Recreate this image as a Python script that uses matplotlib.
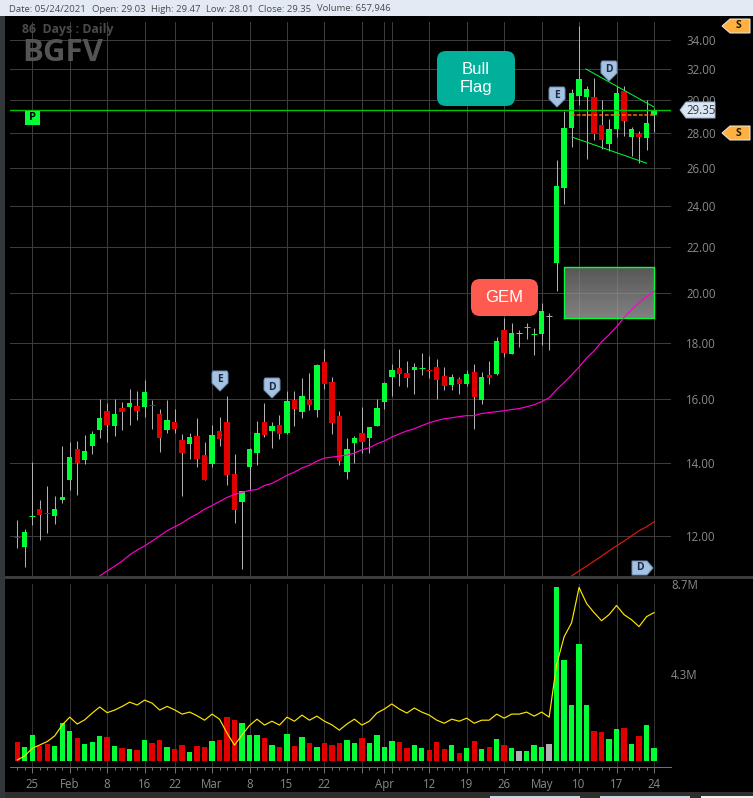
import numpy as np
import matplotlib
matplotlib.use('Agg')
import matplotlib.pyplot as plt
from matplotlib.patches import Rectangle, FancyBboxPatch, Polygon

opens = [11.98,11.73,12.49,12.69,12.62,12.51,12.94,13.49,14.41,14.08,
	14.50,14.99,15.60,15.11,15.70,15.73,15.77,15.73,15.81,15.50,
	14.99,15.25,14.68,14.56,14.81,14.23,13.97,14.96,15.25,13.68,
	12.88,13.86,14.29,15.25,14.96,15.14,14.90,15.97,15.57,15.97,
	15.63,17.29,16.58,15.43,13.71,14.59,14.90,14.75,15.11,15.90,
	16.75,17.08,16.90,17.01,17.06,17.04,17.11,16.79,16.48,16.68,
	16.51,16.93,15.97,16.82,16.86,18.49,17.59,18.37,18.58,18.33,
	18.34,19.03,21.28,24.92,28.30,30.24,30.18,30.18,28.47,27.34,
	28.19,30.55,27.74,27.92,27.68,29.03]
closes = [11.96,12.10,12.51,12.53,12.60,12.69,13.03,14.17,14.00,14.35,
	14.87,15.36,15.14,15.50,15.57,15.87,15.60,16.24,15.79,14.75,
	15.32,15.03,14.29,14.78,14.11,13.49,14.84,14.72,13.65,12.66,
	13.19,14.41,14.90,14.84,15.11,14.87,15.93,15.67,16.10,15.80,
	17.18,16.51,15.21,14.05,14.41,14.75,14.62,15.08,15.70,16.54,
	17.01,16.86,16.72,17.11,17.08,17.02,16.65,16.44,16.75,16.51,
	16.86,16.07,16.75,16.72,18.09,17.63,18.39,18.37,18.60,18.35,
	19.26,19.03,25.02,28.30,30.43,31.33,30.68,27.92,27.57,28.19,
	30.43,28.70,28.19,27.74,28.59,29.35]
highs = [12.41,12.18,14.02,12.94,13.33,13.05,14.50,14.62,14.65,14.84,
	14.96,16.00,15.87,16.00,15.90,16.34,16.27,16.65,15.97,15.67,
	15.97,15.67,14.87,14.90,15.36,14.62,15.14,15.39,16.10,14.26,
	13.19,14.43,15.28,15.87,15.25,15.46,16.27,16.27,16.72,16.90,
	17.22,17.78,16.75,15.60,14.75,14.81,15.73,15.08,16.00,16.58,
	17.22,17.78,17.32,17.25,17.63,17.52,17.41,17.11,16.86,16.75,
	16.99,17.22,16.93,17.32,18.23,18.96,18.76,18.49,18.76,18.59,
	19.58,19.15,26.43,29.30,30.68,35.04,30.87,31.40,29.99,28.82,
	30.87,30.87,28.36,28.07,29.99,29.47]
lows = [11.70,11.24,12.28,11.90,12.08,12.30,12.86,13.22,13.08,13.97,
	14.26,14.75,14.62,14.81,14.99,15.14,15.32,15.39,15.03,14.32,
	14.90,14.90,13.05,14.11,13.86,13.49,13.86,14.50,13.36,12.33,
	11.19,13.22,13.92,14.78,14.43,14.72,14.87,15.11,15.36,15.63,
	15.39,16.34,14.87,13.92,13.51,14.00,14.29,14.29,15.11,15.67,
	16.10,16.44,16.41,16.17,16.82,16.72,16.00,16.31,16.31,16.17,
	16.44,15.03,15.83,16.51,16.82,17.48,17.59,17.85,18.15,17.56,
	17.92,17.74,20.07,24.11,27.17,29.68,26.49,27.57,27.06,26.94,
	27.74,27.80,26.66,26.26,27.00,28.01]
# volume in millions
volumes = [.94,.69,1.29,.74,.84,.74,1.88,1.49,1.14,.84,.94,1.24,1.19,.74,.64,.59,.54,1.04,.89,1.04,
	.69,.59,.79,.45,.74,.69,.99,1.04,2.18,2.03,1.88,1.29,1.29,1.14,.79,.69,1.34,.74,
	1.19,.89,.69,.89,.79,.89,1.04,.89,1.14,.89,1.29,.69,.99,.94,.64,.79,.64,.54,.94,.59,
	.79,.40,.64,.99,.59,.69,1.09,.79,.64,.50,.50,.79,.69,.84,8.56,5.00,2.77,5.74,2.77,1.49,
	1.44,1.09,1.58,1.63,.84,1.24,1.78,.66]
vol_avg = [.05,.25,.63,.79,.96,1.24,1.78,2.16,1.82,2.03,2.36,2.66,2.38,2.51,2.69,2.90,2.76,3.00,2.85,2.51,
	2.69,2.52,2.31,2.41,2.23,2.01,2.31,2.06,1.37,.78,1.29,1.75,2.06,1.77,1.96,1.77,2.16,1.96,
	2.26,2.01,2.21,1.96,1.78,1.52,1.82,2.06,1.77,1.96,2.36,2.56,2.81,2.56,2.36,2.61,2.41,2.26,2.01,1.86,
	2.06,1.96,2.11,1.86,2.01,2.01,2.31,2.11,2.31,2.31,2.41,2.21,2.41,2.16,4.75,6.12,6.81,8.55,7.76,7.31,
	6.91,7.21,7.66,7.21,6.96,6.62,7.11,7.31]
ma_start = 11
ma_mid = [11.03,11.15,11.26,11.38,11.53,11.65,11.75,11.87,12.00,12.13,12.23,12.33,12.46,12.56,12.69,
	12.79,12.90,13.01,13.09,13.15,13.20,13.23,13.34,13.40,13.51,13.63,13.72,13.84,13.92,14.04,14.13,
	14.16,14.19,14.22,14.28,14.38,14.44,14.56,14.65,14.77,14.87,14.96,15.03,15.13,15.22,15.29,15.35,
	15.38,15.42,15.45,15.45,15.52,15.55,15.58,15.61,15.65,15.68,15.74,15.81,15.91,16.04,16.32,16.56,
	16.83,17.11,17.44,17.70,18.04,18.31,18.62,18.98,19.30,19.59,19.84,20.05]
ma_long_start = 74
ma_long = [11.03,11.15,11.26,11.38,11.50,11.63,11.75,11.87,12.00,12.13,12.23,12.36]

price_ticks = [12,14,16,18,20,22,24,26,28,30,32,34]
date_pos = [2,7,12,17,21,26,31,36,41,46,49,50,55,60,65,70,75,80,85]
date_labels = ['25','Feb','8','16','22','Mar','8','15','22','','Apr','','12','19','26','May','10','17','24']
vol_ticks = [4.3,8.7]
vol_labels = ['4.3M','8.7M']

GREEN = '#00ff33'
RED = '#e00000'
GREY = '#b0b0b0'
GRID = '#3c3c3c'
TXT = '#8a8a8a'
FONT = 'Open Sans'
W, H = 753, 798
THIN = 0.72  # one pixel at dpi 100

plt.rcParams['font.family'] = [FONT, 'DejaVu Sans']
fig = plt.figure(figsize=(W/100, H/100), dpi=100, facecolor='black')

def px_axes(x0, y0, x1, y1):
	return fig.add_axes([x0/W, 1-y1/H, (x1-x0)/W, (y1-y0)/H], facecolor='black')

x = np.arange(len(closes))
colors = []
for o, c in zip(opens, closes):
	if c > o:
		colors.append(GREEN)
	elif c < o:
		colors.append(RED)
	else:
		colors.append(GREY)

# price panel
ax = px_axes(10, 22, 671, 576)
ax.set_yscale('log')
ax.set_xlim(-0.975, 87.27)
ax.set_ylim(11.03, 35.33)
ax.set_axisbelow(True)
ax.grid(True, color=GRID, lw=THIN)
ax.minorticks_off()
ax.set_yticks(price_ticks)
ax.set_yticklabels(['%.2f' % p for p in price_ticks], fontsize=8.3, color=TXT)
ax.yaxis.tick_right()
ax.tick_params(axis='y', length=0, pad=11)
ax.set_xticks(date_pos)
ax.tick_params(axis='x', length=0, labelbottom=False)
for s in ax.spines.values():
	s.set_visible(False)

# grey zone
zx = [73.03, 85.0]
zy = np.linspace(18.97, 21.1, 21)
zc = np.linspace(0.67, 0.46, 20).reshape(-1, 1)
ax.pcolormesh(zx, zy, zc, cmap='gray', vmin=0, vmax=1, alpha=0.75, zorder=1, linewidth=0)
ax.plot([zx[0], zx[1], zx[1], zx[0], zx[0]], [18.97, 18.97, 21.1, 21.1, 18.97], color=GREEN, lw=1, zorder=2)

ax.vlines(x, lows, highs, color=GREY, lw=THIN, zorder=3)
tops = [max(o, c) for o, c in zip(opens, closes)]
bots = [min(o, c) for o, c in zip(opens, closes)]
for i in x:
	if tops[i]-bots[i] < 0.05:
		ax.hlines(closes[i], i-0.4, i+0.4, color=colors[i], lw=THIN, zorder=4)
	else:
		ax.bar(i, tops[i]-bots[i], bottom=bots[i], width=0.72, color=colors[i], lw=0, zorder=4)

ax.plot(np.arange(ma_start, ma_start+len(ma_mid)), ma_mid, color='#ff00cc', lw=0.85, zorder=5)
ax.plot(np.arange(ma_long_start, ma_long_start+len(ma_long)), ma_long, color='#e01818', lw=0.85, zorder=5)

# drawings
ax.axhline(closes[-1], color='#00c800', lw=1, zorder=5)
ax.plot([73.9, 85], [29.03, 29.03], color='#ff6a00', lw=1.1, ls=(0, (2.5, 1.2)), zorder=6)
ax.plot([75.9, 85], [32.01, 29.55], color=GREEN, lw=THIN, zorder=6)
ax.plot([74.06, 84], [27.74, 26.26], color=GREEN, lw=THIN, zorder=6)

# volume panel
av = px_axes(10, 584, 671, 767)
av.set_xlim(-0.975, 87.27)
av.set_ylim(-0.296, 8.72)
av.bar(x, volumes, width=0.72, color=colors, lw=0, zorder=3)
av.plot(x, vol_avg, color='#ffe600', lw=0.85, zorder=4)
av.set_axisbelow(True)
av.set_xticks(date_pos)
av.set_xticklabels(date_labels, fontsize=8.3, color=TXT)
av.set_xticks(x, minor=True)
av.grid(True, axis='x', which='major', color='#333333', lw=THIN)
av.tick_params(axis='x', which='major', length=4, width=THIN, color='#707070', pad=4)
av.tick_params(axis='x', which='minor', length=2, width=THIN, color='#707070')
av.set_yticks(vol_ticks)
av.set_yticklabels(vol_labels, fontsize=8.3, color=TXT)
av.yaxis.tick_right()
av.tick_params(axis='y', length=0, pad=0)
for k in ['top', 'left', 'right']:
	av.spines[k].set_visible(False)
av.spines['bottom'].set_color('#707070')
av.spines['bottom'].set_linewidth(THIN)

# overlay in pixels, for the window chrome and badges
ov = fig.add_axes([0, 0, 1, 1])
ov.set_xlim(0, W)
ov.set_ylim(H, 0)
ov.axis('off')
ov.patch.set_alpha(0)
ov.add_patch(Rectangle((0, 0), W, 16, color='#e3eaf4', lw=0))
ov.add_patch(Rectangle((0, 16), 5, 782, color='#33373b', lw=0))
ov.add_patch(Rectangle((5, 576), 748, 3, color='#3c3c3c', lw=0))
ov.add_patch(Rectangle((5, 792), 748, 6, color='#2e2e2e', lw=0))
ov.add_patch(Rectangle((490, 796), 90, 2, color='#c8d8ea', lw=0))
ov.add_patch(Rectangle((600, 796), 90, 2, color='#c8d8ea', lw=0))
ov.add_patch(Rectangle((701, 796), 52, 2, color='#f0f0f0', lw=0))

head_x = [9, 92, 151, 206, 258, 317]
head_txt = ['Date: 05/24/2021', 'Open: 29.03', 'High: 29.47', 'Low: 28.01', 'Close: 29.35', 'Volume: 657,946']
for hx, t in zip(head_x, head_txt):
	ov.text(hx, 9, t, fontsize=6.8, color='#4a4a4a', va='center')

ov.text(22, 30, '86  Days : Daily', fontsize=8.9, color='#4a4a4a', va='center', fontweight='bold')
ov.text(22, 53, 'BGFV', fontsize=22.5, color='#545454', va='center', fontweight='bold')

def label_box(x0, y0, x1, y1, col, txt):
	ov.add_patch(FancyBboxPatch((x0+9, y0+9), x1-x0-18, y1-y0-18, boxstyle='round,pad=9,rounding_size=9', fc=col, ec='none'))
	ov.text((x0+x1)/2, (y0+y1)/2, txt, color='white', fontsize=12, ha='center', va='center', family='Liberation Sans', linespacing=1.2)

label_box(437, 51, 515, 106, '#00b09b', 'Bull\nFlag')
label_box(471, 279, 538, 316, '#ff5a50', 'GEM')

def shield(cx, cy, t):
	pts = [(cx-7, cy-10), (cx+7, cy-10), (cx+8, cy-8), (cx+8, cy+2), (cx, cy+10), (cx-8, cy+2), (cx-8, cy-8)]
	ov.add_patch(Polygon(pts, closed=True, fc='#a6c2e2', ec='#6f8fb5', lw=THIN))
	ov.text(cx, cy-1, t, color='#1a2a44', fontsize=7.5, ha='center', va='center', fontweight='bold')

shield(557, 97, 'E')
shield(220, 381, 'E')
shield(272, 388, 'D')
shield(609, 71, 'D')

ov.add_patch(Polygon([(632, 561), (647, 561), (653, 568), (647, 575), (632, 575)], closed=True, fc='#a6c2e2', ec='#6f8fb5', lw=THIN))
ov.text(640, 568, 'D', color='#1a2a44', fontsize=7.5, ha='center', va='center', fontweight='bold')

def s_tag(cy):
	ov.add_patch(Polygon([(722, cy), (730, cy-7), (750, cy-7), (750, cy+7), (730, cy+7)], closed=True, fc='#ffb040', ec='#e8e8e8', lw=THIN))
	ov.text(738, cy, 'S', color='#2a1a00', fontsize=7.5, ha='center', va='center', fontweight='bold')

s_tag(26)
s_tag(133)

ov.add_patch(Polygon([(680, 110), (686, 102), (715, 102), (715, 118), (686, 118)], closed=True, fc='#dbe6f5', ec='#a0b4cc', lw=THIN))
ov.text(686, 110, '%.2f' % closes[-1], color='#3a3a3a', fontsize=8.3, va='center')

ov.add_patch(Rectangle((25, 111), 15, 14, color=GREEN, lw=0))
ov.text(32.5, 118, 'P', color='black', fontsize=8, ha='center', va='center', fontweight='bold')

fig.savefig('out.png', dpi=100, facecolor='black')
